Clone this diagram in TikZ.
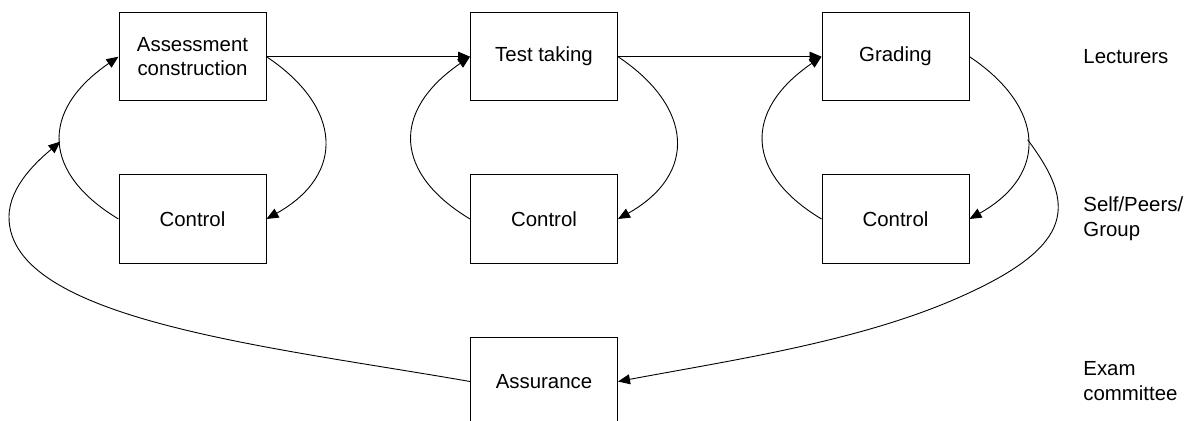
\documentclass[tikz,border=0pt]{standalone}
\usepackage{fontspec}
\setmainfont{Liberation Sans}
\usetikzlibrary{arrows.meta}
\begin{document}
\begin{tikzpicture}[x=0.5pt,y=-0.5pt,
  font=\fontsize{10.2}{12.3}\selectfont,
  stage/.style={draw, line width=0.5pt, minimum width=73.5pt, minimum height=44.3pt,
                inner sep=0pt, align=center},
  role/.style={anchor=west, align=left, inner sep=0pt},
  flow/.style={line width=0.45pt, -{Triangle[length=6pt,width=5pt]}}]
\useasboundingbox (0,0) rectangle (1190,421);

% process stages and their controls
\node[stage] (ac) at (192.5,56.7) {Assessment\\construction};
\node[stage] (tt) at (544,56.7) {Test taking};
\node[stage] (gr) at (895.5,56.7) {Grading};
\node[stage] (c1) at (192.5,219) {Control};
\node[stage] (c2) at (544,219) {Control};
\node[stage] (c3) at (895.5,219) {Control};
\node[stage] (as) at (544,381.5) {Assurance};

% actors per level
\node[role] (lec) at (1083,56.7) {Lecturers};
\node[role] (spg) at (1083,219) {Self/Peers/\\Group};
\node[role] (ec) at (1083,381) {Exam\\committee};

% main flow
\draw[flow] (ac.east) -- (tt.west);
\draw[flow] (tt.east) -- (gr.west);

% control loops
\draw[flow] (ac.east) .. controls +(75,50) and +(80,-45) .. (c1.east);
\draw[flow] (c1.west) .. controls +(-75,-45) and +(-80,55) .. (ac.west) coordinate[pos=0.5] (ab);
\draw[flow] (tt.east) .. controls +(75,50) and +(80,-45) .. (c2.east);
\draw[flow] (c2.west) .. controls +(-75,-45) and +(-80,55) .. (tt.west);
\draw[flow] (gr.east) .. controls +(75,50) and +(80,-45) .. (c3.east) coordinate[pos=0.5] (gb);
\draw[flow] (c3.west) .. controls +(-75,-45) and +(-80,55) .. (gr.west);

% assurance loop
\coordinate (w1) at (960,297);
\coordinate (w2) at (9,217);
\draw[flow] (gb) .. controls +(48,64) and +(117,-52) .. (w1)
                 .. controls +(-99,44) and +(118,-22) .. (as.east);
\draw[flow] (as.west) .. controls +(-200,-35) and +(0,103) .. (w2)
                      .. controls +(0,-32) and +(-20,17) .. (ab);
\end{tikzpicture}
\end{document}
